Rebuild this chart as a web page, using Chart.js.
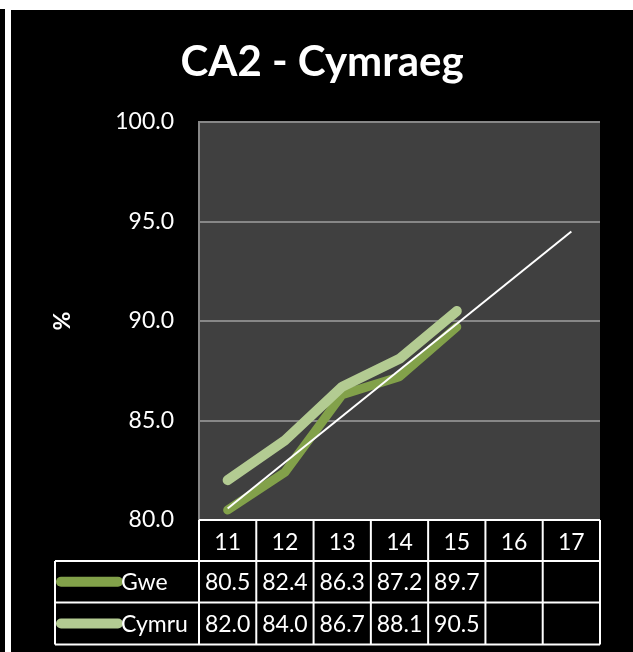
<!DOCTYPE html>
<html>
<head>
<meta charset="utf-8">
<script src="https://cdn.jsdelivr.net/npm/chart.js@4.4.1/dist/chart.umd.min.js"></script>
<style>
  html, body { margin: 0; padding: 0; background: #fff; width: 633px; height: 652px; overflow: hidden; }
  #strip { position: absolute; left: 0; top: 9px; width: 5px; height: 643px; background: #000; }
  #wrap { position: absolute; left: 11px; top: 10px; width: 622px; height: 642px; background: #000; }
</style>
</head>
<body>
<div id="strip"></div>
<div id="wrap"><canvas id="ca2"></canvas></div>
<script>
// categories and series
var years = ['11', '12', '13', '14', '15', '16', '17'];
var gwe = [80.5, 82.4, 86.3, 87.2, 89.7];
var cymru = [82.0, 84.0, 86.7, 88.1, 90.5];
var seriesNames = ['Gwe', 'Cymru'];
var seriesColors = ['#82a14a', '#b3cb92'];

// linear trendline of Gwe (like the excel one), over all the years
function trendOf(vals, n){
    var m = vals.length, sx = 0, sy = 0, sxy = 0, sxx = 0;
    vals.forEach(function(v, i){ sx += i; sy += v; sxy += i * v; sxx += i * i; });
    var slope = (m * sxy - sx * sy) / (m * sxx - sx * sx);
    var icpt = (sy - slope * sx) / m;
    var out = [];
    for (var i = 0; i < n; i++) out.push(i === 0 || i === n - 1 ? icpt + slope * i : null);
    return out;
}
var gweTrend = trendOf(gwe, years.length);

var font = 'Lato';

var tablePlugin = {
    id: 'dataTable',
    beforeDraw: function(chart){
        var a = chart.chartArea, ctx = chart.ctx;
        ctx.save();
        ctx.fillStyle = '#404040';
        ctx.fillRect(a.left, a.top, a.right - a.left, a.bottom - a.top);
        ctx.restore();
    },
    afterDraw: function(chart){
        var ctx = chart.ctx, x = chart.scales.x, a = chart.chartArea;
        var col = (x.right - x.left) / years.length;
        var legendLeft = 44;
        var y0 = a.bottom, y1 = x.bottom, y2 = y1 + 41.5, y3 = y2 + 42;
        var rowMid = [(y1 + y2) / 2, (y2 + y3) / 2];
        var rows = [gwe, cymru];

        ctx.save();
        ctx.strokeStyle = '#fff';
        ctx.lineWidth = 2;
        ctx.beginPath();
        ctx.moveTo(x.left, y0); ctx.lineTo(x.right, y0);
        [y1, y2, y3].forEach(function(y){ ctx.moveTo(legendLeft, y); ctx.lineTo(x.right, y); });
        for (var i = 0; i <= years.length; i++) {
            var cx = x.left + i * col;
            ctx.moveTo(cx, y0); ctx.lineTo(cx, y3);
        }
        ctx.moveTo(legendLeft, y1); ctx.lineTo(legendLeft, y3);
        ctx.stroke();

        ctx.font = '23px ' + font;
        ctx.fillStyle = '#fff';
        ctx.textBaseline = 'middle';
        rows.forEach(function(vals, r){
            // legend key
            ctx.strokeStyle = seriesColors[r];
            ctx.lineWidth = 10;
            ctx.lineCap = 'round';
            ctx.beginPath();
            ctx.moveTo(legendLeft + 6, rowMid[r]);
            ctx.lineTo(legendLeft + 63, rowMid[r]);
            ctx.stroke();
            ctx.textAlign = 'left';
            ctx.fillText(seriesNames[r], legendLeft + 66, rowMid[r] + 1);
            ctx.textAlign = 'center';
            vals.forEach(function(v, i){
                ctx.fillText(v.toFixed(1), x.left + (i + 0.5) * col, rowMid[r] + 1);
            });
        });
        ctx.restore();
    }
};

new Chart(document.getElementById('ca2'), {
    type: 'line',
    data: {
        labels: years,
        datasets: [
            {
                label: 'Trend',
                data: gweTrend,
                borderColor: '#ffffff',
                borderWidth: 2,
                spanGaps: true,
                pointRadius: 0,
                order: 0
            },
            {
                label: seriesNames[1],
                data: cymru,
                borderColor: seriesColors[1],
                borderWidth: 10,
                borderCapStyle: 'round',
                borderJoinStyle: 'round',
                pointRadius: 0,
                order: 1
            },
            {
                label: seriesNames[0],
                data: gwe,
                borderColor: seriesColors[0],
                borderWidth: 9,
                borderCapStyle: 'round',
                borderJoinStyle: 'round',
                pointRadius: 0,
                order: 2
            }
        ]
    },
    options: {
        responsive: true,
        maintainAspectRatio: false,
        animation: false,
        devicePixelRatio: 1,
        layout: { padding: { left: 0, right: 0, top: 0, bottom: 91 } },
        plugins: {
            legend: { display: false },
            tooltip: { enabled: false },
            title: {
                display: true,
                text: 'CA2 - Cymraeg',
                color: '#fff',
                font: { family: font, size: 42, weight: 'bold' },
                padding: { top: 27, bottom: 34.6 }
            }
        },
        scales: {
            x: {
                offset: true,
                grid: { display: false },
                border: { display: false },
                ticks: { color: '#fff', font: { family: font, size: 23 }, padding: 1, maxRotation: 0 },
                afterFit: function(s){ s.height = 41; }
            },
            y: {
                min: 80,
                max: 100,
                ticks: {
                    stepSize: 5,
                    color: '#fff',
                    font: { family: font, size: 23 },
                    padding: 25,
                    callback: function(v){ return v.toFixed(1); }
                },
                grid: { color: '#878787', lineWidth: 2, drawTicks: false },
                border: { color: '#878787', width: 2 },
                title: {
                    display: true,
                    text: '%',
                    color: '#fff',
                    font: { family: font, size: 23, weight: 'bold' },
                    padding: { top: 38, bottom: 0 }
                },
                afterFit: function(s){ s.width = 188; }
            },
            // empty strip on the right so the title stays centred on the whole panel
            gap: {
                position: 'right',
                grid: { display: false },
                border: { display: false },
                ticks: { display: false },
                afterFit: function(s){ s.width = 33; }
            }
        }
    },
    plugins: [tablePlugin]
});
</script>
</body>
</html>
